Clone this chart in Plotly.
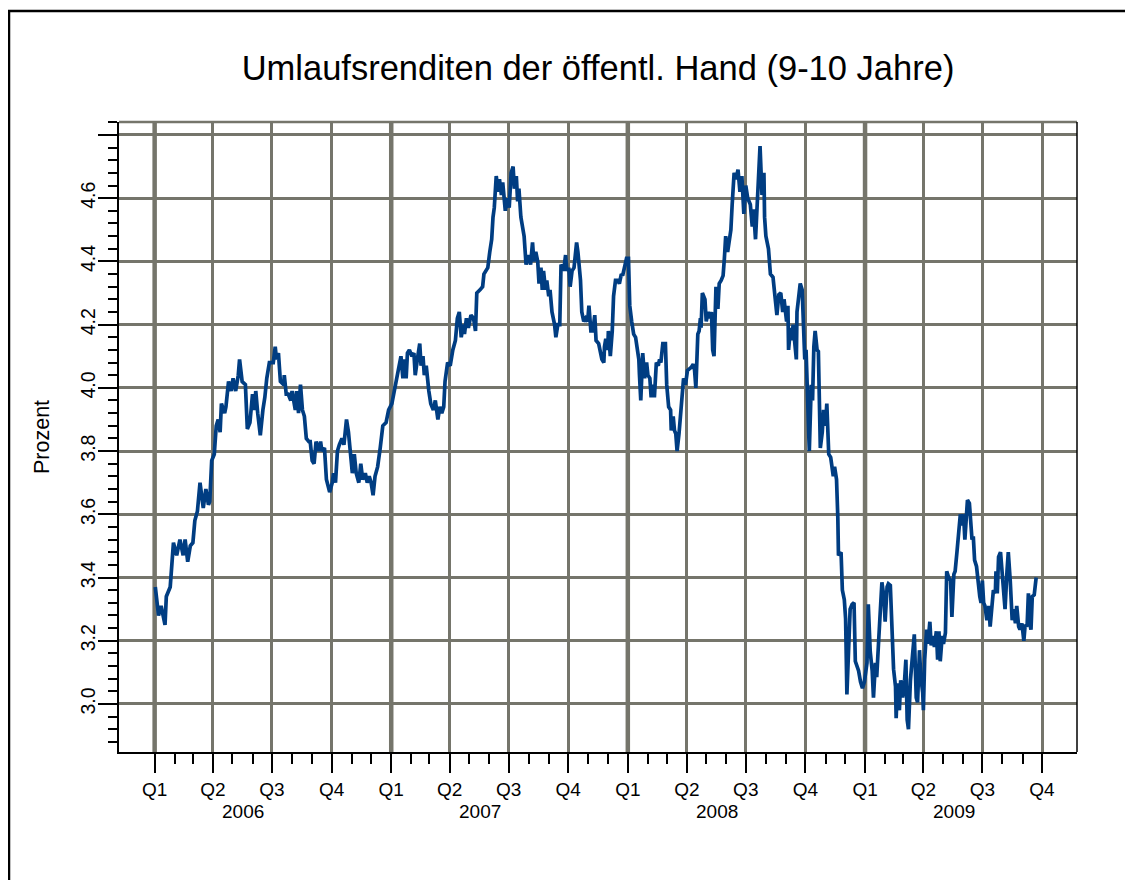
import pandas as pd
import plotly.graph_objects as go

# ---- data: day offsets since 2006-01-01 and yields (percent) ----
days_2006 = [1, 6, 10, 16, 18, 24, 29, 34, 39, 44, 47, 51, 55, 59, 62, 66, 70, 75, 79, 83, 85, 88, 92, 95, 98,
             101, 103, 108, 110, 114, 118, 121, 125, 129, 131, 135, 140, 143, 147, 151, 154, 156, 159, 163, 167,
             170, 173, 177, 180, 183, 186, 188, 191, 194, 199, 200, 203, 206, 210, 212, 217, 219, 222, 225, 228,
             231, 234, 238, 240, 243, 246, 249, 253, 256, 258, 262, 265, 270, 274, 276, 279, 282, 285, 289, 292,
             296, 299, 302, 305, 308, 311, 315, 318, 321, 325, 328, 331, 334, 337, 340, 344, 348, 352, 357, 361]
yield_2006 = [3.37, 3.28, 3.31, 3.25, 3.34, 3.37, 3.51, 3.47, 3.52, 3.47, 3.52, 3.45, 3.50, 3.51, 3.58, 3.61, 3.70,
              3.62, 3.68, 3.63, 3.64, 3.77, 3.79, 3.88, 3.90, 3.86, 3.95, 3.92, 3.94, 4.02, 3.99, 4.03, 3.99, 4.04,
              4.09, 4.02, 4.01, 3.87, 3.89, 3.98, 3.93, 3.99, 3.92, 3.85, 3.93, 3.97, 4.03, 4.08, 4.08, 4.08, 4.13,
              4.09, 4.11, 4.02, 4.01, 4.04, 3.98, 3.98, 3.96, 3.99, 3.93, 3.99, 3.92, 4.01, 3.93, 3.91, 3.84, 3.83,
              3.83, 3.77, 3.76, 3.83, 3.80, 3.83, 3.80, 3.81, 3.71, 3.67, 3.70, 3.73, 3.70, 3.80, 3.82, 3.84, 3.82,
              3.90, 3.86, 3.79, 3.73, 3.79, 3.73, 3.70, 3.76, 3.71, 3.73, 3.70, 3.72, 3.70, 3.66, 3.72, 3.75, 3.81,
              3.88, 3.89, 3.93]

days_2007 = [366, 371, 375, 377, 380, 383, 385, 388, 390, 393, 397, 400, 402, 406, 409, 411, 414, 416, 419, 423,
             426, 430, 433, 437, 440, 443, 446, 448, 452, 456, 460, 464, 467, 470, 473, 476, 478, 481, 484, 488,
             492, 495, 497, 502, 506, 508, 514, 517, 520, 522, 524, 527, 530, 532, 535, 537, 541, 544, 547, 550,
             553, 555, 558, 560, 562, 565, 568, 570, 573, 577, 580, 583, 585, 588, 591, 593, 596, 598, 600, 603,
             605, 608, 610, 613, 617, 619, 622, 625, 627, 631, 634, 636, 639, 641, 644, 647, 651, 653, 657, 659,
             662, 665, 668, 670, 673, 676, 679, 681, 685, 688, 690, 693, 694, 696, 699, 700, 703, 706, 708, 711,
             714, 717, 720, 722, 725, 728]
yield_2007 = [3.95, 4.00, 4.04, 4.07, 4.10, 4.03, 4.09, 4.03, 4.11, 4.12, 4.10, 4.11, 4.04, 4.10, 4.14, 4.07, 4.10,
              4.04, 4.07, 3.99, 3.95, 3.93, 3.96, 3.90, 3.94, 3.92, 3.94, 4.02, 4.08, 4.07, 4.12, 4.15, 4.22, 4.24,
              4.16, 4.20, 4.17, 4.22, 4.19, 4.23, 4.22, 4.18, 4.30, 4.31, 4.32, 4.36, 4.38, 4.43, 4.47, 4.54, 4.57,
              4.67, 4.62, 4.66, 4.61, 4.65, 4.56, 4.60, 4.57, 4.68, 4.70, 4.63, 4.67, 4.59, 4.63, 4.54, 4.49, 4.48,
              4.39, 4.42, 4.39, 4.46, 4.40, 4.43, 4.40, 4.33, 4.38, 4.31, 4.37, 4.31, 4.34, 4.29, 4.31, 4.24, 4.20,
              4.16, 4.20, 4.20, 4.39, 4.37, 4.42, 4.37, 4.38, 4.32, 4.37, 4.38, 4.46, 4.43, 4.34, 4.24, 4.21, 4.22,
              4.21, 4.26, 4.18, 4.18, 4.23, 4.15, 4.14, 4.10, 4.09, 4.08, 4.13, 4.155, 4.12, 4.18, 4.10, 4.18, 4.29,
              4.34, 4.34, 4.33, 4.36, 4.355, 4.39, 4.41]

days_2008 = [731, 733, 736, 739, 742, 744, 747, 748, 750, 753, 756, 759, 761, 764, 766, 769, 771, 774, 777, 779,
             781, 784, 788, 790, 793, 796, 797, 800, 802, 804, 806, 809, 813, 816, 819, 822, 825, 828, 831, 833,
             835, 838, 840, 842, 843, 845, 849, 851, 854, 856, 859, 861, 863, 866, 869, 871, 874, 877, 879, 881,
             884, 886, 889, 891, 894, 897, 900, 903, 906, 909, 912, 915, 919, 922, 924, 927, 929, 932, 934, 937,
             940, 941, 943, 947, 950, 954, 958, 960, 963, 966, 969, 971, 975, 977, 978, 981, 983, 985, 987, 990,
             991, 994, 996, 999, 1001, 1003, 1005, 1007, 1010, 1013, 1015, 1017, 1019, 1022, 1024, 1027, 1030,
             1032, 1035, 1037, 1040, 1043, 1047, 1049, 1052, 1054, 1055, 1059, 1061, 1064, 1066, 1068, 1071, 1073,
             1076, 1079, 1081, 1084, 1086, 1089, 1092, 1095]
yield_2008 = [4.41, 4.26, 4.21, 4.17, 4.16, 4.13, 4.09, 4.04, 3.96, 4.11, 4.03, 4.08, 4.04, 4.03, 3.97, 4.01, 3.97,
              4.08, 4.07, 4.09, 4.08, 4.14, 4.14, 4.01, 3.94, 3.93, 3.865, 3.91, 3.865, 3.855, 3.80, 3.855, 3.94,
              4.03, 4.01, 4.055, 4.06, 4.065, 4.075, 4.055, 4.00, 4.17, 4.18, 4.22, 4.19, 4.30, 4.28, 4.21, 4.24,
              4.22, 4.24, 4.12, 4.10, 4.32, 4.25, 4.33, 4.34, 4.355, 4.41, 4.48, 4.43, 4.465, 4.50, 4.58, 4.68,
              4.66, 4.69, 4.62, 4.67, 4.55, 4.64, 4.60, 4.58, 4.51, 4.565, 4.47, 4.57, 4.675, 4.765, 4.61, 4.68,
              4.54, 4.48, 4.44, 4.36, 4.35, 4.28, 4.23, 4.295, 4.30, 4.24, 4.28, 4.21, 4.26, 4.12, 4.19, 4.15, 4.20,
              4.155, 4.09, 4.24, 4.31, 4.33, 4.31, 4.20, 4.09, 4.12, 3.96, 3.80, 4.01, 3.96, 4.13, 4.18, 4.12,
              4.115, 3.81, 3.86, 3.93, 3.88, 3.95, 3.79, 3.78, 3.72, 3.75, 3.71, 3.59, 3.47, 3.48, 3.36, 3.33, 3.27,
              3.03, 3.165, 3.30, 3.315, 3.32, 3.135, 3.12, 3.105, 3.07, 3.05, 3.07]

days_2009 = [1099, 1101, 1104, 1107, 1109, 1112, 1114, 1117, 1120, 1122, 1125, 1127, 1130, 1132, 1135, 1138, 1140,
             1143, 1144, 1146, 1149, 1151, 1154, 1157, 1159, 1161, 1163, 1166, 1168, 1172, 1175, 1177, 1180, 1182,
             1185, 1186, 1188, 1191, 1193, 1196, 1198, 1201, 1203, 1206, 1208, 1210, 1212, 1215, 1217, 1220, 1222,
             1225, 1228, 1230, 1233, 1235, 1238, 1240, 1243, 1246, 1248, 1250, 1252, 1254, 1257, 1259, 1261, 1263,
             1265, 1268, 1270, 1273, 1275, 1277, 1279, 1281, 1284, 1287, 1289, 1292, 1294, 1297, 1298, 1300, 1302,
             1305, 1307, 1310, 1312, 1315, 1317, 1320, 1323, 1325, 1328, 1330, 1333, 1335, 1338, 1341, 1343, 1346,
             1348, 1351, 1352, 1354, 1357, 1360]
yield_2009 = [3.13, 3.315, 3.165, 3.105, 3.02, 3.13, 3.085, 3.20, 3.30, 3.385, 3.34, 3.26, 3.37, 3.38, 3.375, 3.24,
              3.11, 3.055, 2.955, 3.065, 2.98, 3.075, 3.02, 3.075, 3.14, 2.95, 2.92, 3.075, 3.12, 3.22, 3.02, 3.005,
              3.17, 3.085, 3.035, 2.98, 3.14, 3.235, 3.19, 3.26, 3.185, 3.215, 3.18, 3.23, 3.14, 3.23, 3.135, 3.215,
              3.19, 3.225, 3.42, 3.40, 3.39, 3.275, 3.41, 3.42, 3.485, 3.53, 3.60, 3.565, 3.60, 3.52, 3.61, 3.645,
              3.635, 3.555, 3.52, 3.53, 3.455, 3.435, 3.39, 3.34, 3.32, 3.39, 3.32, 3.31, 3.265, 3.31, 3.245, 3.31,
              3.36, 3.35, 3.42, 3.35, 3.465, 3.48, 3.42, 3.33, 3.30, 3.42, 3.48, 3.39, 3.265, 3.30, 3.255, 3.31,
              3.245, 3.235, 3.255, 3.20, 3.25, 3.245, 3.35, 3.245, 3.235, 3.34, 3.345, 3.40]

quarter_ticks = ["2006-01-01", "2006-04-01", "2006-07-01", "2006-10-01",
                 "2007-01-01", "2007-04-01", "2007-07-01", "2007-10-01",
                 "2008-01-01", "2008-04-01", "2008-07-01", "2008-10-01",
                 "2009-01-01", "2009-04-01", "2009-07-01", "2009-10-01"]
quarter_labels = ["Q1", "Q2", "Q3", "Q4", "Q1", "Q2", "Q3", "Q4",
                  "Q1", "Q2", "Q3", "Q4", "Q1", "Q2", "Q3", "Q4"]
year_labels = ["2006", "2007", "2008", "2009"]
year_starts = ["2006-01-01", "2007-01-01", "2008-01-01", "2009-01-01"]
y_tickvals = [3.0, 3.2, 3.4, 3.6, 3.8, 4.0, 4.2, 4.4, 4.6, 4.8]
y_ticktext = ["3.0", "3.2", "3.4", "3.6", "3.8", "4.0", "4.2", "4.4", "4.6", ""]

title_text = "Umlaufsrenditen der öffentl. Hand (9-10 Jahre)"
y_title = "Prozent"

# ---- build ----
base = pd.Timestamp("2006-01-01")
all_days = days_2006 + days_2007 + days_2008 + days_2009
all_yields = yield_2006 + yield_2007 + yield_2008 + yield_2009
dates = [base + pd.Timedelta(days=d) for d in all_days]

GRID = "#75756b"
FONT = "Liberation Sans, Arial, sans-serif"

# page body has an 8px margin; figure is sized to fit the window without scrolling
W, H = 1125, 872
ML, MT, PW, PH = 111, 114, 958, 630
MR, MB = W - ML - PW, H - MT - PH

fig = go.Figure()
fig.add_trace(go.Scatter(x=dates, y=all_yields, mode="lines",
                         line=dict(color="#003d82", width=3.7), hoverinfo="skip"))

month_ticks = list(pd.date_range("2006-01-01", "2009-10-01", freq="MS"))

fig.update_layout(
    width=W, height=H,
    margin=dict(l=ML, r=MR, t=MT, b=MB),
    paper_bgcolor="white", plot_bgcolor="white",
    showlegend=False,
    font=dict(family=FONT, color="black", size=19),
    title=dict(text=title_text, x=0.5, xref="paper", xanchor="center",
               y=1 - 60 / H, yref="container", yanchor="middle",
               font=dict(family=FONT, size=34.5, color="black")),
    xaxis=dict(
        type="date",
        range=["2005-11-07", "2009-11-24"],
        tickmode="array", tickvals=quarter_ticks, ticktext=quarter_labels,
        ticks="outside", ticklen=19, tickwidth=1.5, tickcolor="black",
        ticklabelstandoff=0,
        showline=True, linecolor="black", linewidth=1.5,
        showgrid=True, gridcolor=GRID, gridwidth=2.5,
        zeroline=False,
        tickfont=dict(family=FONT, size=19, color="black"),
        minor=dict(tickmode="array", tickvals=month_ticks, ticks="outside",
                   ticklen=10, tickwidth=1.5, tickcolor="black", showgrid=False),
    ),
    yaxis=dict(
        range=[2.848, 4.841],
        tickmode="array", tickvals=y_tickvals, ticktext=y_ticktext,
        tickangle=-90,
        ticks="outside", ticklen=19, tickwidth=1.5, tickcolor="black",
        ticklabelstandoff=-5,
        showline=True, linecolor="black", linewidth=1.5,
        showgrid=True, gridcolor=GRID, gridwidth=2.5,
        zeroline=False,
        tickfont=dict(family=FONT, size=19.5, color="black"),
        minor=dict(dtick=0.04, tick0=0, ticks="outside", ticklen=9,
                   tickwidth=1.5, tickcolor="black", showgrid=False),
    ),
)

shapes = []
for ys in year_starts:
    shapes.append(dict(type="line", xref="x", yref="paper", x0=ys, x1=ys, y0=0, y1=1,
                       line=dict(color=GRID, width=4.5), layer="below"))
# top edge (grey), right edge (black)
shapes.append(dict(type="line", xref="paper", yref="paper", x0=0, x1=1, y0=1, y1=1,
                   line=dict(color=GRID, width=2.5), layer="above"))
shapes.append(dict(type="line", xref="paper", yref="paper", x0=1, x1=1, y0=0, y1=1,
                   line=dict(color="black", width=1.5), layer="above"))
# outer frame (left/top edges visible; right/bottom fall outside the canvas)
shapes.append(dict(type="rect", xref="paper", yref="paper",
                   x0=(1 - ML) / PW, x1=1.2, y0=-0.4, y1=1 + (MT - 3) / PH,
                   line=dict(color="black", width=2.5), fillcolor="rgba(0,0,0,0)", layer="above"))
fig.update_layout(shapes=shapes)

annotations = []
for yl, ys in zip(year_labels, year_starts):
    start = pd.Timestamp(ys)
    mid = start + (pd.Timestamp(f"{yl}-10-01") - start) / 2
    annotations.append(dict(text=yl, x=mid, xref="x", y=-59.7 / PH, yref="paper",
                            xanchor="center", yanchor="middle", showarrow=False,
                            font=dict(family=FONT, size=19, color="black")))
annotations.append(dict(text=y_title, x=-77 / PW, xref="paper", y=0.5, yref="paper",
                        textangle=-90, xanchor="center", yanchor="middle", showarrow=False,
                        font=dict(family=FONT, size=21.5, color="black")))
fig.update_layout(annotations=annotations)

fig.write_html("out.html")
